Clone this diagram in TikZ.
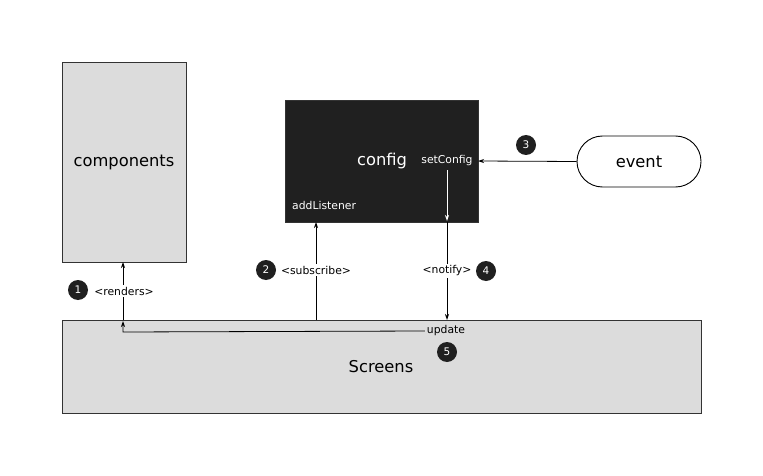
\documentclass[tikz,border=0pt]{standalone}
\usepackage{fontspec}
\setmainfont{DejaVu Sans}
\usetikzlibrary{arrows.meta}
\definecolor{boxgray}{HTML}{DCDCDC}
\definecolor{boxdark}{HTML}{202020}
\definecolor{edgegray}{HTML}{333333}
\begin{document}
\begin{tikzpicture}[x=1pt,y=-1pt,
  bigfont/.style={font=\fontsize{16.3}{19}\selectfont},
  smallfont/.style={font=\fontsize{10.8}{12}\selectfont},
  graybox/.style={draw=edgegray,line width=0.9pt,fill=boxgray,inner sep=0pt,bigfont},
  darkbox/.style={draw=edgegray,line width=0.9pt,fill=boxdark,inner sep=0pt,text=white,bigfont},
  numdot/.style={circle,fill=boxdark,text=white,minimum size=20pt,inner sep=0pt,font=\fontsize{10.5}{12}\selectfont},
  lbl/.style={smallfont,fill=white,inner sep=1.5pt},
  arr/.style={line width=0.8pt,-{Stealth[length=6pt,width=4pt]}},
  ln/.style={line width=0.8pt}
]
\useasboundingbox (0,0) rectangle (763,476);
\node[graybox,minimum width=124pt,minimum height=200pt] (comp) at (124,162) {components};
\node[darkbox,minimum width=193pt,minimum height=122pt] (config) at (381.5,161) {};
\node[text=white,bigfont] (configt) at (382,161) {config};
\node[text=white,smallfont,inner sep=1pt] (setc) at (447,161) {setConfig};
\node[text=white,smallfont,anchor=west,inner sep=0pt] (addl) at (292,205) {addListener};
\node[draw=black,line width=0.9pt,fill=white,rounded corners=25.5pt,minimum width=124pt,minimum height=51pt,inner sep=0pt,bigfont] (event) at (639,161.5) {event};
\node[graybox,minimum width=639pt,minimum height=93pt] (screens) at (381.5,366.5) {};
\node[bigfont] (screenst) at (381,367) {Screens};

% step 1: renders
\coordinate (rs) at (123,320);
\coordinate (cb) at (123,262);
\draw[arr] (rs) -- (cb);
\node[lbl] (rl) at (124,291) {<renders>};
\node[numdot] (n1) at (78,290) {1};

% step 2: subscribe
\coordinate (ss) at (316,320);
\coordinate (sc) at (316,222);
\draw[arr] (ss) -- (sc);
\node[lbl] (sl) at (316,270) {<subscribe>};
\node[numdot] (n2) at (266,270) {2};

% step 3: event -> setConfig
\coordinate (ce) at (478,161);
\draw[arr] (event.west) -- (ce);
\node[numdot] (n3) at (526,145) {3};

% setConfig internal (white)
\coordinate (sct) at (447,170);
\coordinate (scb) at (447,221);
\draw[arr,draw=white] (sct) -- (scb);

% step 4: notify
\coordinate (nt) at (447,222);
\coordinate (nb) at (447,320);
\draw[arr] (nt) -- (nb);
\node[lbl] (nl) at (447,271) {<notify>};
\node[numdot] (n4) at (486,271) {4};

% step 5: update
\node[smallfont,inner sep=2pt] (upd) at (446,331) {update};
\coordinate (uc) at (123,332);
\coordinate (ut) at (123,321);
\draw[ln,-{Stealth[length=6pt,width=4pt]}] (upd.west) -- (uc) -- (ut);
\node[numdot] (n5) at (447,352) {5};
\end{tikzpicture}
\end{document}
